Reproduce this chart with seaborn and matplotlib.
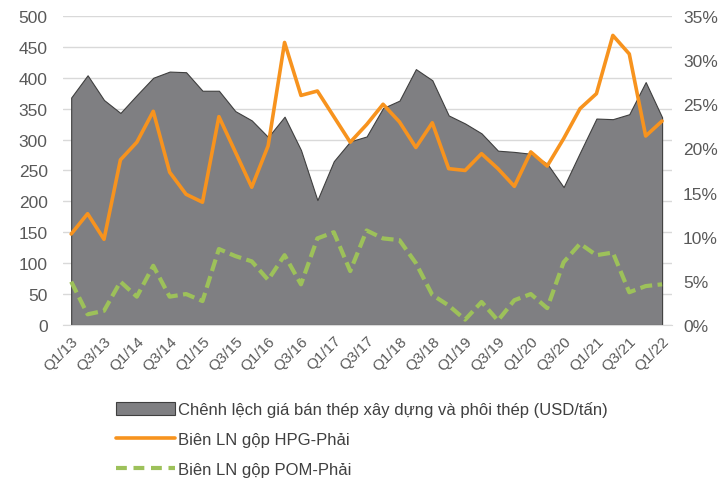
import numpy as np
import pandas as pd
import matplotlib
matplotlib.use("Agg")
import matplotlib.pyplot as plt
import seaborn as sns
from matplotlib.patches import Patch
from matplotlib.lines import Line2D
from matplotlib.ticker import FuncFormatter

quarters = [f"Q{q}/{y}" for y in range(13, 22) for q in range(1, 5)] + ["Q1/22"]

# chenh lech gia (USD/tan) - truc trai
spread = [368, 404, 364, 343, 372, 400, 410, 409, 379, 379, 346, 331, 304, 337,
          283, 202, 265, 297, 305, 351, 363, 414, 396, 339, 326, 310, 282, 280,
          277, 261, 223, 279, 334, 333, 341, 393, 336]
# bien LN gop (%) - truc phai
hpg = [10.3, 12.6, 9.7, 18.7, 20.7, 24.2, 17.3, 14.8, 13.9, 23.6, 19.6, 15.6,
       20.3, 32.0, 26.0, 26.5, 23.6, 20.7, 22.7, 25.0, 23.0, 20.1, 22.9, 17.7,
       17.5, 19.4, 17.7, 15.7, 19.6, 18.0, 21.1, 24.5, 26.2, 32.8, 30.7, 21.4, 23.1]
pom = [4.9, 1.2, 1.6, 4.9, 3.2, 6.7, 3.2, 3.5, 2.7, 8.6, 7.8, 7.2, 5.1, 7.9,
       4.6, 9.8, 10.5, 6.1, 10.7, 9.8, 9.6, 7.0, 3.4, 2.2, 0.6, 2.6, 0.5, 2.8,
       3.5, 1.9, 7.1, 9.2, 7.9, 8.2, 3.7, 4.4, 4.6]

labels = ["Chênh lệch giá bán thép xây dựng và phôi thép (USD/tấn)",
          "Biên LN gộp HPG-Phải",
          "Biên LN gộp POM-Phải"]

df = pd.DataFrame({"q": quarters, "spread": spread, "hpg": hpg, "pom": pom})
df["x"] = np.arange(len(df))

sns.set_style("white")
plt.rcParams["font.family"] = ["Liberation Sans", "DejaVu Sans"]

grey = "#7f7f82"
orange = "#f7931e"
green = "#9dc15a"
txt = "#595959"

fig = plt.figure(figsize=(7.28, 4.85), dpi=100)
ax = fig.add_axes([0.0865, 0.328, 0.8365, 0.637])

ax.fill_between(df["x"], 0, df["spread"], color=grey, edgecolor="#3f3f3f", linewidth=0.8, zorder=2)
ax.set_ylim(0, 500)
ax.set_yticks(range(0, 501, 50))
ax.set_xlim(-0.5, 36.6)
ax.grid(axis="y", color="#d9d9d9", linewidth=1, zorder=0)
ax.set_axisbelow(True)
ax.set_xticks(df["x"][::2])
ax.set_xticklabels(df["q"][::2], rotation=45, ha="right", rotation_mode="anchor")
for s in ["top", "left", "right"]:
    ax.spines[s].set_visible(False)
ax.spines["bottom"].set_color("#d9d9d9")
ax.tick_params(axis="y", length=0, labelsize=12.5, colors=txt, pad=11)
ax.tick_params(axis="x", length=0, labelsize=11, colors=txt, pad=6)

ax2 = ax.twinx()
sns.lineplot(data=df, x="x", y="hpg", ax=ax2, color=orange, linewidth=2.6, zorder=3)
sns.lineplot(data=df, x="x", y="pom", ax=ax2, color=green, linewidth=3, zorder=3)
ax2.lines[-1].set_dashes([2.9, 1.3])
ax2.set_ylim(0, 35)
ax2.set_yticks(range(0, 36, 5))
ax2.yaxis.set_major_formatter(FuncFormatter(lambda v, p: f"{v:.0f}%"))
ax2.set_xlim(-0.5, 36.6)
ax2.set_xlabel("")
ax2.set_ylabel("")
ax.set_xlabel("")
ax.set_ylabel("")
for s in ["top", "left", "right", "bottom"]:
    ax2.spines[s].set_visible(False)
ax2.tick_params(axis="y", length=0, labelsize=12.5, colors=txt, pad=8)

handles = [Patch(facecolor=grey, edgecolor="#3f3f3f", linewidth=0.8),
           Line2D([], [], color=orange, linewidth=2.6),
           Line2D([], [], color=green, linewidth=3, dashes=[2.6, 1.6])]
fig.legend(handles, labels, loc="center left", bbox_to_anchor=(0.16, 0.093),
           frameon=False, fontsize=12, labelcolor="#404040", handlelength=3.5,
           handleheight=0.8, handletextpad=0.2, labelspacing=0.88,
           borderpad=0, borderaxespad=0)

fig.savefig("out.png", dpi=100)
